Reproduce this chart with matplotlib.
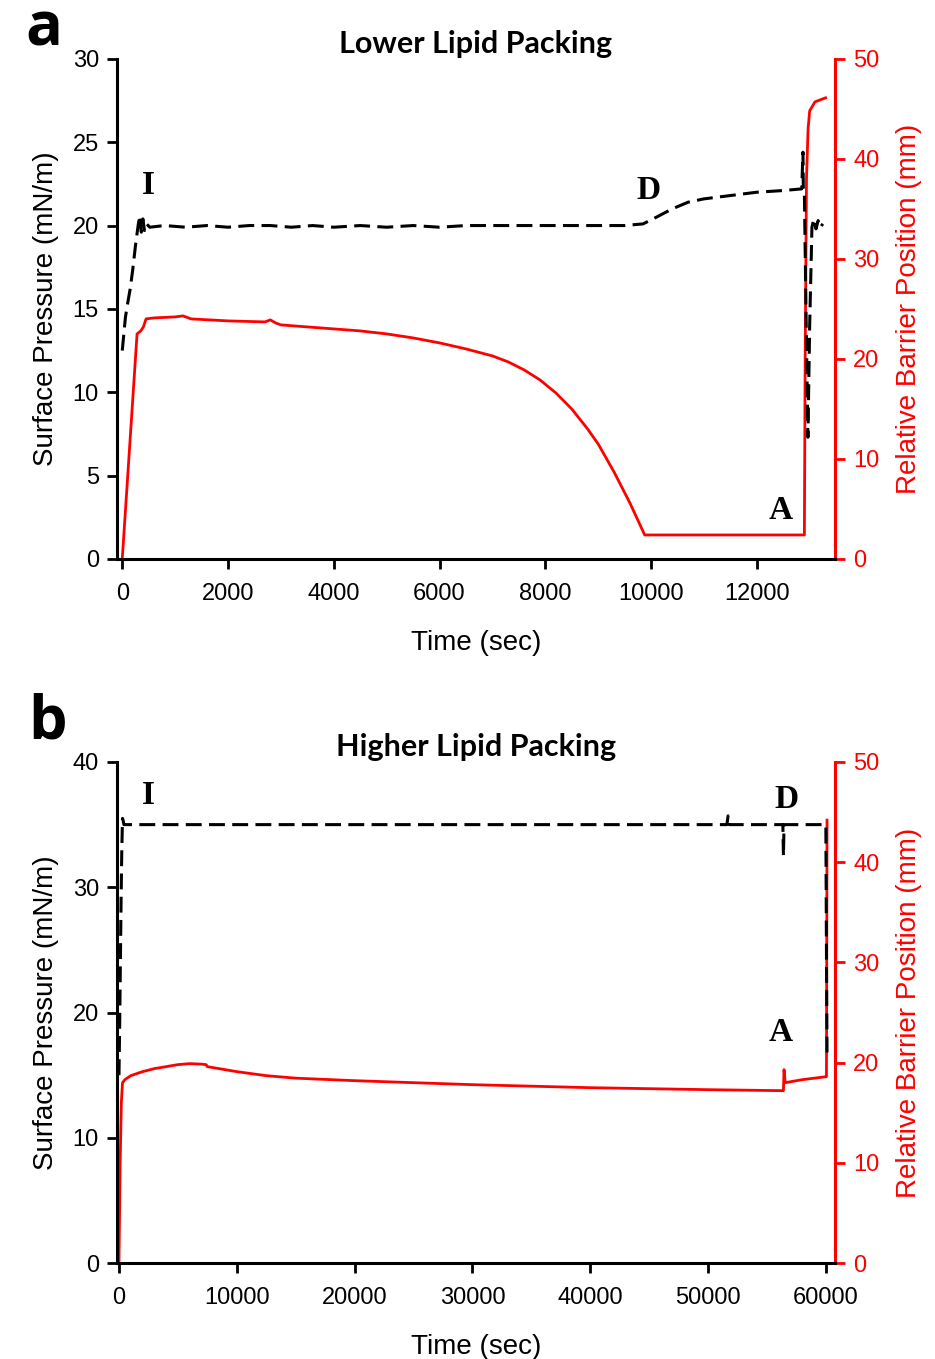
import matplotlib
matplotlib.use("Agg")
import matplotlib.pyplot as plt

# ---------------- data: panel a (Lower Lipid Packing) ----------------
a_time_p = [0, 60, 100, 150, 200, 250, 300, 330, 360, 390, 420, 460, 520, 800, 1200,
            1600, 2000, 2400, 2800, 3200, 3600, 4000, 4500, 5000, 5500, 6000, 6500,
            7000, 7500, 8000, 8500, 9000, 9500, 9850, 10100, 10400, 10700, 11000,
            11500, 12000, 12500, 12850, 12873, 12880, 12900, 12930, 12967, 13000,
            13043, 13080, 13120, 13160, 13200, 13250]
a_pressure = [12.5, 14.5, 15.3, 16.2, 17.4, 18.8, 20.0, 20.6, 19.6, 20.4, 19.7, 20.1,
              19.9, 20.0, 19.9, 20.0, 19.9, 20.0, 20.0, 19.9, 20.0, 19.9, 20.0, 19.9,
              20.0, 19.9, 20.0, 20.0, 20.0, 20.0, 20.0, 20.0, 20.0, 20.1, 20.5, 21.0,
              21.4, 21.6, 21.8, 22.0, 22.1, 22.2, 24.4, 22.2, 22.0, 15.0, 7.3, 14.0,
              19.9, 20.4, 19.8, 20.3, 19.9, 20.1]

a_time_b = [0, 280, 350, 400, 450, 600, 1000, 1150, 1300, 2000, 2700, 2800, 2900,
            3000, 4000, 4500, 5000, 5500, 6000, 6500, 7000, 7300, 7600, 7900, 8200,
            8500, 8800, 9000, 9300, 9600, 9880, 12900, 12915, 12940, 12970, 13000,
            13100, 13250, 13300]
a_barrier = [0.0, 22.5, 22.8, 23.2, 24.0, 24.1, 24.2, 24.3, 24.0, 23.8, 23.7, 23.9,
             23.6, 23.4, 23.0, 22.8, 22.5, 22.1, 21.6, 21.0, 20.3, 19.7, 18.9, 17.9,
             16.6, 15.0, 13.0, 11.5, 8.7, 5.6, 2.4, 2.4, 20.0, 38.0, 43.0, 44.8,
             45.7, 46.0, 46.1]

# ---------------- data: panel b (Higher Lipid Packing) ----------------
b_time_p = [0, 60, 120, 180, 240, 300, 360, 420, 500, 2000, 5000, 10000, 15000,
            20000, 25000, 30000, 35000, 40000, 45000, 51600, 51700, 51800, 56350,
            56400, 56450, 56500, 58000, 60000, 60050, 60100]
b_pressure = [15.0, 19.0, 24.0, 29.0, 33.0, 35.5, 35.3, 35.0, 35.0, 35.0, 35.0,
              35.0, 35.0, 35.0, 35.0, 35.0, 35.0, 35.0, 35.0, 35.0, 35.7, 35.0,
              35.0, 32.5, 35.0, 35.0, 35.0, 35.0, 25.0, 16.8]

b_time_b = [0, 100, 200, 300, 500, 1000, 2000, 3000, 4000, 5000, 6000, 7000, 7400,
            7500, 10000, 12500, 15000, 20000, 30000, 40000, 50000, 56400, 56450,
            56550, 58000, 60050, 60100]
b_barrier = [0.0, 10.0, 16.0, 18.0, 18.3, 18.7, 19.1, 19.4, 19.6, 19.8, 19.9, 19.85,
             19.8, 19.6, 19.1, 18.7, 18.45, 18.2, 17.8, 17.5, 17.3, 17.2, 19.3, 18.0,
             18.3, 18.6, 44.2]

panels = [
    dict(letter="a", title="Lower Lipid Packing", tp=a_time_p, p=a_pressure,
         tb=a_time_b, b=a_barrier, xlim=(-100, 13480), xticks=[0, 2000, 4000, 6000, 8000, 10000, 12000],
         ylim=(0, 30), yticks=[0, 5, 10, 15, 20, 25, 30],
         ann=[("I", 491, 22.4), ("D", 9943, 22.1), ("A", 12457, 2.9)],
         pos=[0.1251, 0.5887, 0.768, 0.368]),
    dict(letter="b", title="Higher Lipid Packing", tp=b_time_p, p=b_pressure,
         tb=b_time_b, b=b_barrier, xlim=(-170, 60780),
         xticks=[0, 10000, 20000, 30000, 40000, 50000, 60000],
         ylim=(0, 40), yticks=[0, 10, 20, 30, 40],
         ann=[("I", 2462, 37.3), ("D", 56620, 37.0), ("A", 56200, 18.4)],
         pos=[0.1251, 0.0706, 0.768, 0.3687]),
]

plt.rcParams['font.family'] = ['Liberation Sans', 'DejaVu Sans']

fig = plt.figure(figsize=(9.35, 13.59), dpi=100)

for pn in panels:
    ax = fig.add_axes(pn["pos"])
    ax2 = ax.twinx()
    ax.set_zorder(ax2.get_zorder() + 1)
    ax.patch.set_visible(False)

    ax2.plot(pn["tb"], pn["b"], color="#ff0000", lw=2.0, solid_joinstyle="round")
    ax.plot(pn["tp"], pn["p"], color="black", lw=2.2, dashes=(5.2, 2.4))

    ax.set_xlim(*pn["xlim"])
    ax.set_ylim(*pn["ylim"])
    ax2.set_ylim(0, 50)
    ax.set_xticks(pn["xticks"])
    ax.set_yticks(pn["yticks"])
    ax2.set_yticks([0, 10, 20, 30, 40, 50])

    ax.spines["top"].set_visible(False)
    ax2.spines["top"].set_visible(False)
    ax.spines["right"].set_visible(False)
    ax2.spines["left"].set_visible(False)
    ax2.spines["bottom"].set_visible(False)
    ax.spines["left"].set_linewidth(2.2)
    ax.spines["bottom"].set_linewidth(2.2)
    ax2.spines["right"].set_linewidth(2.2)
    ax2.spines["right"].set_color("#ff0000")

    ax.tick_params(axis="both", direction="out", length=7, width=2, labelsize=17, pad=6)
    ax.tick_params(axis="x", pad=10)
    ax2.tick_params(axis="y", direction="out", length=7, width=2, colors="#ff0000",
                    labelsize=17, pad=6)

    ax.set_xlabel("Time (sec)", fontsize=20, labelpad=18)
    ax.set_ylabel("Surface Pressure (mN/m)", fontsize=20, labelpad=10)
    ax2.set_ylabel("Relative Barrier Position (mm)", fontsize=20, color="#ff0000",
                   labelpad=12)

    for txt, tx, ty in pn["ann"]:
        ax.text(tx, ty, txt, fontsize=24, fontweight="bold", family="Liberation Serif",
                ha="center", va="center")

    ax.set_title(pn["title"], fontsize=22, fontweight="bold", family="Lato", pad=4)

fig.text(0.027, 0.978, "a", fontsize=44, fontweight="bold", family="Open Sans",
         ha="left", va="center")
fig.text(0.030, 0.468, "b", fontsize=44, fontweight="bold", family="Open Sans",
         ha="left", va="center")

fig.savefig("out.png", dpi=100)
